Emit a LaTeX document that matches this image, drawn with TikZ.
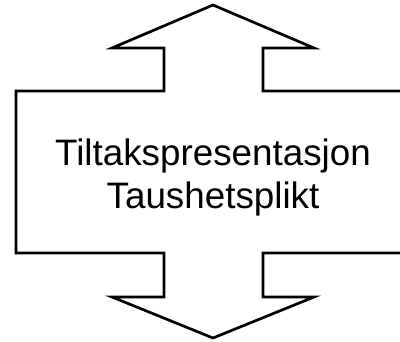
\documentclass[tikz,border=0pt]{standalone}
\usepackage{fontspec}
\setmainfont{Liberation Sans}
\begin{document}
\begin{tikzpicture}[x=1pt,y=-1pt,
  arrowshape/.style={draw=black,line width=2.7pt,line join=miter,fill=white},
  label/.style={font=\fontsize{36.8}{43}\selectfont,align=center,inner sep=0pt}]
\useasboundingbox (0,0) rectangle (400,341);
\clip (0,0) rectangle (400,341);
\draw[arrowshape] (213,5) -- (314,48) -- (263,48) -- (263,91) -- (410,91) -- (410,253)
  -- (263,253) -- (263,297) -- (314,297) -- (213,338) -- (112,297) -- (164,297)
  -- (164,253) -- (16,253) -- (16,91) -- (164,91) -- (164,48) -- (112,48) -- cycle;
\node[label,anchor=base] (txt) at (213,208) {Tiltakspresentasjon\\Taushetsplikt};
\end{tikzpicture}
\end{document}
